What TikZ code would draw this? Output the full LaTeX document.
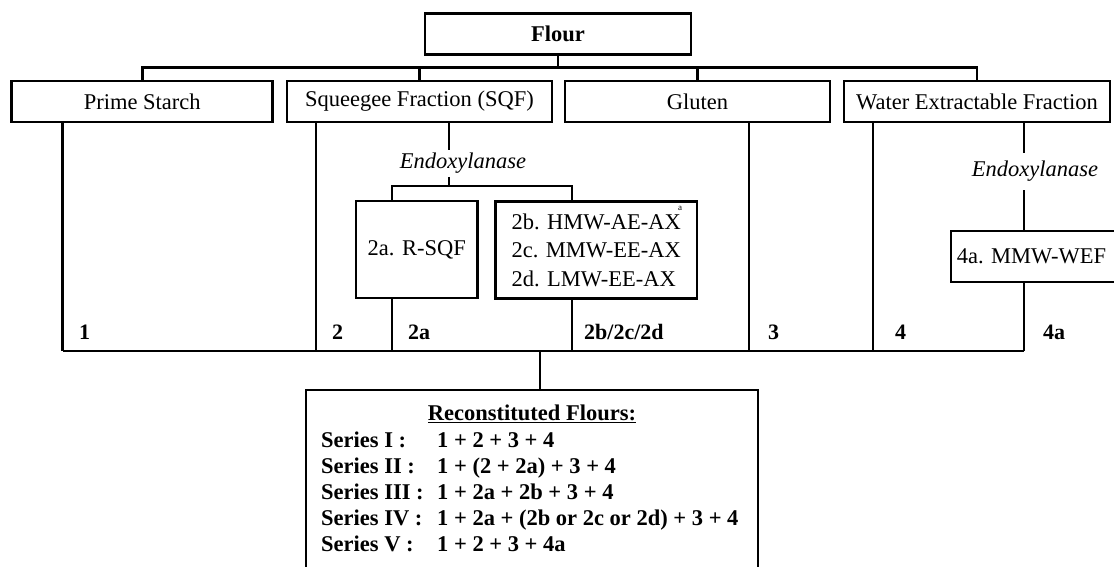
\documentclass[tikz,border=0pt]{standalone}
\usepackage{fontspec}
\setmainfont{Liberation Serif}
\tikzset{
  fbox/.style={draw, line width=2.8pt, inner sep=0pt, minimum height=41pt,
    font=\fontsize{22.5}{27}\selectfont},
  conn/.style={line width=2.8pt},
  lbl/.style={inner sep=0pt, anchor=base west, font=\fontsize{22}{26}\selectfont\bfseries},
  enz/.style={inner sep=0pt, font=\fontsize{22.5}{27}\selectfont\itshape},
  ser/.style={inner sep=0pt, anchor=base west, font=\fontsize{22.5}{26}\selectfont\bfseries}
}
\begin{document}
\begin{tikzpicture}[x=1pt,y=-1pt]
\useasboundingbox[fill=white] (0,0) rectangle (1114,567);
% top level
\node[fbox, minimum width=266pt] (flour) at (558,33.7) {\textbf{Flour}};
\node[fbox, minimum width=261pt] (prime) at (142.2,101.5) {Prime Starch};
\node[fbox, minimum width=265pt] (sqf) at (419.5,101.5) {Squeegee Fraction (SQF)};
\node[fbox, minimum width=265pt] (glut) at (697.5,101.5) {Gluten};
\node[fbox, minimum width=266pt] (wef) at (977,101.5) {Water Extractable Fraction};
\coordinate (bus) at (558,67.5);
\draw[conn] (flour.south) -- (bus);
\draw[conn] (prime.north) |- (bus) -| (wef.north);
\draw[conn] (sqf.north) -- (sqf.north |- bus);
\draw[conn] (glut.north) -- (glut.north |- bus);
% enzymes
\node[enz] (endo1) at (463,163) {Endoxylanase};
\node[enz] (endo2) at (1035,171) {Endoxylanase};
% second level boxes
\node[fbox, minimum width=121.5pt, minimum height=97pt] (r2a) at (416.75,249.5) {2a. R-SQF};
\node[fbox, minimum width=201.5pt, minimum height=97pt, align=left,
  font=\fontsize{22.5}{28.5}\selectfont] (r2b) at (596.25,250) {2b. HMW-AE-AX\\2c. MMW-EE-AX\\2d. LMW-EE-AX};
\node[inner sep=0pt, font=\fontsize{9}{9}\selectfont] (sup) at (680,208) {a};
\node[fbox, minimum width=167pt, minimum height=51pt] (r4a) at (1034.5,256.5) {\hspace*{-6pt}4a. MMW-WEF};
% coordinates on the bottom bus
\coordinate (b1) at (62.5,351);
\coordinate (b2) at (316,351);
\coordinate (b2a) at (392,351);
\coordinate (b2b) at (572,351);
\coordinate (b3) at (749,351);
\coordinate (b4) at (873,351);
\coordinate (b4a) at (1024,351);
\coordinate (bm) at (540,351);
% enzyme stems
\coordinate (e1) at (449,186);
\coordinate (e1t) at (449,150);
\coordinate (e1b) at (449,177);
\coordinate (e2t) at (1024,153);
\coordinate (e2b) at (1024,190);
\draw[conn] (sqf.south -| e1) -- (e1t);
\draw[conn] (e1b) -- (e1);
\draw[conn] (r2a.north -| b2a) |- (e1) -| (r2b.north -| b2b);
\draw[conn] (wef.south -| b4a) -- (e2t);
\draw[conn] (e2b) -- (r4a.north -| b4a);
% down lines
\draw[conn] (prime.south -| b1) -- (b1);
\draw[conn] (sqf.south -| b2) -- (b2);
\draw[conn] (r2a.south -| b2a) -- (b2a);
\draw[conn] (r2b.south -| b2b) -- (b2b);
\draw[conn] (glut.south -| b3) -- (b3);
\draw[conn] (wef.south -| b4) -- (b4);
\draw[conn] (r4a.south -| b4a) -- (b4a);
\draw[conn] (b1) -- (b4a);
% labels
\node[lbl] (l1) at (79,339.5) {1};
\node[lbl] (l2) at (332,339.5) {2};
\node[lbl] (l2a) at (408,339.5) {2a};
\node[lbl] (l2b) at (584,339.5) {2b/2c/2d};
\node[lbl] (l3) at (768,339.5) {3};
\node[lbl] (l4) at (895,339.5) {4};
\node[lbl] (l4a) at (1043,339.5) {4a};
% result box
\node[draw, line width=2.8pt, minimum width=452pt, minimum height=220pt, inner sep=0pt] (res) at (532,500) {};
\draw[conn] (bm) -- (res.north -| bm);
\node[inner sep=0pt, font=\fontsize{22.5}{26}\selectfont\bfseries] (title) at (532,414) {\underline{Reconstituted Flours:}};
\node[ser] (s1) at (321,447.5) {Series I :};
\node[ser] (x1) at (437,447.5) {1 + 2 + 3 + 4};
\node[ser] (s2) at (321,473.5) {Series II :};
\node[ser] (x2) at (437,473.5) {1 + (2 + 2a) + 3 + 4};
\node[ser] (s3) at (321,499.5) {Series III :};
\node[ser] (x3) at (437,499.5) {1 + 2a + 2b + 3 + 4};
\node[ser] (s4) at (321,525.5) {Series IV :};
\node[ser] (x4) at (437,525.5) {1 + 2a + (2b or 2c or 2d) + 3 + 4};
\node[ser] (s5) at (321,551.5) {Series V :};
\node[ser] (x5) at (437,551.5) {1 + 2 + 3 + 4a};
\end{tikzpicture}
\end{document}
